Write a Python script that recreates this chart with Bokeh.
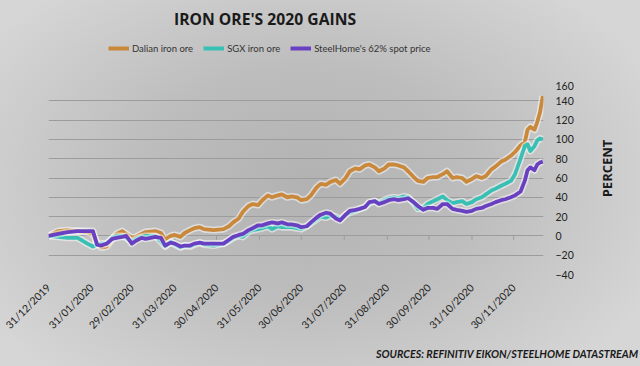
import datetime as dt
import math

from bokeh.plotting import figure
from bokeh.layouts import column
from bokeh.models import (Range1d, FixedTicker, DatetimeTickFormatter, LinearAxis,
                          Legend, LegendItem, Title, Label)
from bokeh.embed import file_html
from bokeh.resources import INLINE

# ---------------- data ----------------
start_date = dt.datetime(2019, 12, 31)

day_offsets = [0, 7, 14, 21, 28,
               32, 35, 38, 42, 46,
               49, 53, 56, 60, 63,
               67, 70, 77, 81, 84,
               88, 91, 95, 98, 102,
               105, 109, 112, 119, 126,
               130, 133, 137, 140, 144,
               147, 151, 154, 158, 161,
               165, 168, 172, 175, 179,
               182, 186, 189, 193, 196,
               200, 203, 207, 210, 214,
               217, 221, 224, 228, 231,
               235, 238, 242, 245, 249,
               252, 256, 259, 263, 266,
               270, 273, 277, 280, 284,
               287, 291, 294, 298, 301,
               305, 308, 312, 315, 319,
               322, 326, 329, 333, 336,
               340, 343, 345, 347, 350,
               352, 354, 356]

dalian = [0, 5, 6, 5, 4,
          2, -8, -12, -11, -3,
          2, 5, 2, -2, -1,
          2, 4, 5, 3, -4,
          0, 1, -1, 3, 6,
          8, 9, 7, 6, 7,
          10, 14, 18, 25, 31,
          33, 32, 37, 42, 40,
          42, 43, 40, 41, 40,
          37, 38, 42, 50, 54,
          53, 56, 58, 54, 60,
          67, 70, 69, 73, 74,
          71, 67, 70, 74, 74,
          73, 71, 67, 61, 57,
          56, 60, 61, 61, 64,
          67, 60, 61, 60, 56,
          59, 62, 60, 62, 69,
          72, 77, 79, 83, 87,
          94, 97, 110, 113, 110,
          118, 128, 145]

sgx = [0, -1, -2, -2, -8,
       -11, -9, -8, -8, -2,
       0, 0, -2, -6, -3,
       -1, 0, 0, -6, -11,
       -6, -9, -12, -10, -11,
       -9, -7, -9, -10, -8,
       -5, -2, 0, -1, 4,
       6, 7, 8, 10, 7,
       10, 9, 9, 9, 8,
       7, 10, 13, 17, 20,
       19, 21, 20, 17, 22,
       24, 26, 28, 30, 34,
       36, 34, 37, 39, 40,
       39, 41, 40, 34, 28,
       29, 33, 36, 38, 41,
       37, 34, 35, 36, 33,
       35, 38, 40, 43, 47,
       49, 52, 54, 57, 64,
       80, 93, 95, 88, 93,
       99, 101, 100]

steelhome = [0, 2, 4, 5, 5,
             5, -9, -10, -8, -3,
             -2, -1, 0, -8, -5,
             -2, -3, -1, -2, -10,
             -7, -8, -11, -10, -10,
             -8, -7, -8, -8, -8,
             -4, -1, 1, 2, 6,
             8, 11, 11, 13, 14,
             13, 14, 12, 12, 11,
             9, 10, 14, 19, 22,
             24, 23, 18, 16, 22,
             26, 27, 28, 30, 35,
             36, 33, 35, 37, 38,
             37, 38, 39, 35, 31,
             27, 29, 29, 28, 33,
             33, 28, 27, 26, 25,
             26, 28, 29, 31, 33,
             35, 37, 38, 40, 42,
             46, 57, 68, 71, 68,
             74, 76, 77]

series_names = ["Dalian iron ore", "SGX iron ore", "SteelHome's 62% spot price"]
series_colors = ["#c9883a", "#38c0b4", "#6a40c2"]

x_tick_labels = ["31/12/2019", "31/01/2020", "29/02/2020", "31/03/2020",
                 "30/04/2020", "31/05/2020", "30/06/2020", "31/07/2020",
                 "31/08/2020", "30/09/2020", "31/10/2020", "30/11/2020"]
y_ticks = [-40, -20, 0, 20, 40, 60, 80, 100, 120, 140, 160]

title_text = "IRON ORE'S 2020 GAINS"
y_axis_title = "PERCENT"
y_title_start = 40          # value on the y scale where the rotated axis title begins
source_text = "SOURCES: REFINITIV EIKON/STEELHOME DATASTREAM"

# ---------------- derived ----------------
dates = [start_date + dt.timedelta(days=d) for d in day_offsets]
epoch = dt.datetime(1970, 1, 1)
tick_dates = [dt.datetime.strptime(s, "%d/%m/%Y") for s in x_tick_labels]
tick_ms = [(d - epoch).total_seconds() * 1000.0 for d in tick_dates]

GRID = "#9c9c9c"
HEADER_H = 81
MAIN_H = 366 - HEADER_H
BORDER_L = 48
BORDER_R = 97

# ---------------- header: title + legend ----------------
head = figure(width=640, height=HEADER_H, x_range=Range1d(0, 1), y_range=Range1d(0, 1),
              x_axis_location=None, y_axis_location=None,
              output_backend="svg", toolbar_location=None,
              min_border_left=BORDER_L, min_border_right=BORDER_R,
              min_border_top=0, min_border_bottom=0)
head.background_fill_color = None
head.border_fill_color = None
head.outline_line_color = None
head.grid.visible = False

nan = float("nan")
legend_renderers = [head.line(x=[nan], y=[nan], line_color=c, line_width=4) for c in series_colors]
legend = Legend(items=[LegendItem(label=n, renderers=[r]) for n, r in zip(series_names, legend_renderers)],
                orientation="horizontal", location=(60, 26),
                glyph_width=21, glyph_height=14, label_height=14, label_standoff=3,
                spacing=10, padding=0, margin=0,
                background_fill_alpha=0, border_line_color=None,
                label_text_font="Lato", label_text_font_size="9.5px",
                label_text_color="#333333")
head.add_layout(legend)
head.add_layout(Label(x=264.5 - BORDER_L, y=HEADER_H - 18, x_units="screen", y_units="screen",
                      text=title_text, text_align="center", text_baseline="middle",
                      text_font="Open Sans", text_font_size="15.7px", text_font_style="bold",
                      text_color="#1a1a1a"))

# ---------------- main chart ----------------
p = figure(width=640, height=MAIN_H, x_axis_type="datetime", y_axis_location="right",
           x_range=Range1d(start_date, start_date + dt.timedelta(days=356, hours=12)),
           y_range=Range1d(-40, 160),
           output_backend="svg", toolbar_location=None,
           min_border_left=BORDER_L, min_border_right=BORDER_R,
           min_border_top=0, min_border_bottom=92)
p.background_fill_color = None
p.border_fill_color = None
p.outline_line_color = None

p.xgrid.visible = False
p.ygrid.ticker = FixedTicker(ticks=y_ticks)
p.ygrid.grid_line_color = GRID
p.ygrid.grid_line_width = 1

yax = p.yaxis[0]
yax.ticker = FixedTicker(ticks=y_ticks)
yax.axis_line_color = None
yax.major_tick_line_color = None
yax.major_tick_out = 0
yax.major_tick_in = 0
yax.minor_tick_line_color = None
yax.major_label_standoff = 12
yax.major_label_text_font = "Lato"
yax.major_label_text_font_size = "10.5px"
yax.major_label_text_color = "#222222"

# second right axis that only carries the rotated "PERCENT" title
tax = LinearAxis(ticker=FixedTicker(ticks=[y_title_start]),
                 major_label_overrides={y_title_start: y_axis_title},
                 major_label_orientation=math.pi / 2,
                 axis_line_color=None, major_tick_line_color=None, minor_tick_line_color=None,
                 major_tick_out=0, major_tick_in=0, minor_tick_out=0,
                 major_label_standoff=31,
                 major_label_text_font="Open Sans", major_label_text_font_style="bold",
                 major_label_text_font_size="13px", major_label_text_color="#1a1a1a")
p.add_layout(tax, "right")

xax = p.xaxis[0]
xax.ticker = FixedTicker(ticks=tick_ms)
xax.formatter = DatetimeTickFormatter(days="%d/%m/%Y", months="%d/%m/%Y", years="%d/%m/%Y")
xax.major_label_overrides = {ms: lab for ms, lab in zip(tick_ms, x_tick_labels)}
xax.major_label_orientation = math.pi / 4
xax.axis_line_color = None
xax.major_tick_line_color = None
xax.major_tick_out = 0
xax.major_tick_in = 0
xax.minor_tick_line_color = None
xax.major_label_standoff = 11
xax.major_label_text_font = "Lato"
xax.major_label_text_font_size = "10.5px"
xax.major_label_text_color = "#222222"

# small tick marks hanging from the zero line at each labelled date
p.segment(x0=tick_dates, y0=[0] * len(tick_dates), x1=tick_dates, y1=[-4] * len(tick_dates),
          line_color=GRID, line_width=1)

for vals, color in zip([dalian, sgx, steelhome], series_colors):
    p.line(dates, vals, line_color="white", line_alpha=0.5, line_width=7,
           line_join="round")
    p.line(dates, vals, line_color=color, line_width=3.8, line_join="round")

p.add_layout(Title(text=source_text, align="right", offset=-95, standoff=12,
                   text_font="Lato", text_font_size="10.7px", text_font_style="bold italic",
                   text_color="#1a1a1a"), "below")

layout = column(head, p, spacing=0)
layout.styles = {"background": "radial-gradient(ellipse 60% 70% at 48% 50%, #b2b2b2 0%, #bdbdbd 45%, #d6d6d6 100%)"}

open("out.html", "w").write(file_html(layout, INLINE))
